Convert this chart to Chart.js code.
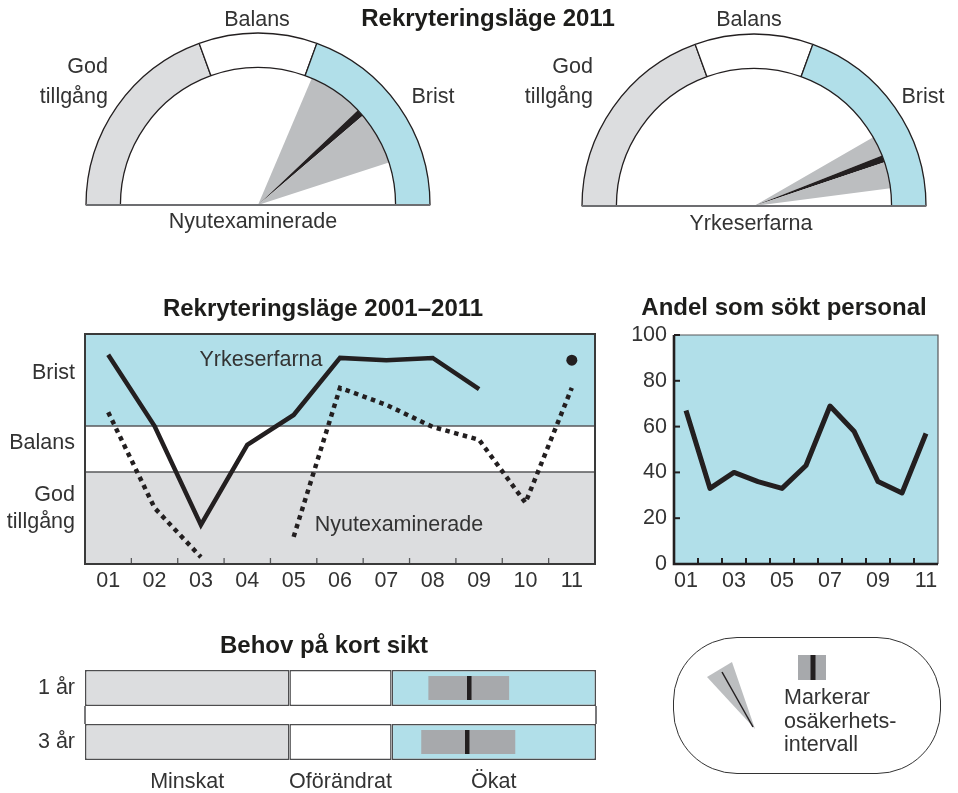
<!DOCTYPE html>
<html lang="sv">
<head>
<meta charset="utf-8">
<title>Rekryteringsläge</title>
<script src="https://cdn.jsdelivr.net/npm/chart.js@4.4.1/dist/chart.umd.min.js"></script>
<style>
  body { margin: 0; width: 958px; height: 793px; background: #fff; position: relative; overflow: hidden;
         font-family: 'Liberation Sans', Arial, sans-serif; color: #333; }
  canvas { position: absolute; }
  .t { position: absolute; white-space: nowrap; font-size: 21.5px; line-height: 1; }
  .b { font-weight: bold; font-size: 24px; color: #1d1d1b; }
  #legend { position: absolute; left: 673px; top: 637px; width: 268px; height: 137px; box-sizing: border-box;
            border: 1.5px solid #333; border-radius: 64px; }
  #legendText { position: absolute; left: 784px; top: 686px; font-size: 21.5px; line-height: 23.5px; }
</style>
</head>
<body>
<canvas id="gauge1" width="360" height="200" style="left:78px;top:19px"></canvas>
<canvas id="gauge2" width="360" height="200" style="left:574px;top:20px"></canvas>
<canvas id="lage" width="612" height="276" style="left:0;top:324px"></canvas>
<canvas id="andel" width="330" height="275" style="left:620px;top:325px"></canvas>
<canvas id="behov" width="612" height="143" style="left:0;top:650px"></canvas>
<div id="legend"></div>
<svg width="958" height="793" style="position:absolute;left:0;top:0">
  <polygon points="707,677 732,662 755,729" fill="#bcbec0"/>
  <line x1="722" y1="672" x2="753" y2="727" stroke="#231f20" stroke-width="1.5"/>
  <rect x="798" y="655" width="28" height="25" fill="#a7a9ac"/>
  <rect x="810.5" y="655" width="5" height="25" fill="#231f20"/>
</svg>
<div id="legendText">Markerar<br>osäkerhets-<br>intervall</div>

<script>
'use strict';

/* ── Data ── */
const gaugeZoneNames = ['God tillgång', 'Balans', 'Brist'];
const gaugeZoneSizes = [70, 40, 70];          // grader, vänster -> höger
const gaugeGroups    = ['Nyutexaminerade', 'Yrkeserfarna'];
const gaugeNeedle    = [138, 160];            // läge på skalan 0–180
const gaugeLow       = [113, 150];
const gaugeHigh      = [162, 172.6];

const years          = ['01', '02', '03', '04', '05', '06', '07', '08', '09', '10', '11'];
const yrkesLage      = [4.55, 3.0, 0.85, 2.59, 3.24, 4.48, 4.43, 4.48, 3.8, null, 4.43];
const nyexLage       = [3.3, 1.22, 0.15, null, 0.59, 3.83, 3.46, 2.98, 2.7, 1.33, 3.83];
const lageLimits     = [0, 2, 3, 5];
const lageNames      = [['God', 'tillgång'], 'Balans', 'Brist'];
const lageTickAt     = [1.2, 2.63, 4.15];

const andelSokt      = [67, 33, 40, 36, 33, 43, 69, 58, 36, 31, 57];
const andelTicks     = [0, 20, 40, 60, 80, 100];

const behovRows      = ['1 år', '3 år'];
const behovZoneNames = ['Minskat', 'Oförändrat', 'Ökat'];
const behovLimits    = [0, 2, 3, 5];
const behovLow       = [3.36, 3.29];
const behovMid       = [3.76, 3.74];
const behovHigh      = [4.15, 4.21];

/* ── Style ── */
const C = {
  blue: '#b1dfe9', gray: '#dcdddf', white: '#ffffff', wedge: '#bcbec0',
  interval: '#a7a9ac', ink: '#231f20', rule: '#58595b', text: '#333333',
};
const zoneColors = [C.gray, C.white, C.blue];
const NEEDLE_W = 3;
const MARK_W = 0.022;
const FONT = { family: "'Liberation Sans', Arial, sans-serif", size: 21.5 };

Chart.defaults.font.family = FONT.family;
Chart.defaults.font.size = FONT.size;
Chart.defaults.color = C.text;
Chart.defaults.plugins.legend.display = false;
Chart.defaults.plugins.tooltip.enabled = false;

const base = { responsive: false, animation: false, events: [] };
const noGrid = { display: false, drawTicks: false };

// fixed axis sizes so the plot areas land where the reference has them
const fixY = (w) => (s) => { s.width = w; s.paddingTop = 0; s.paddingBottom = 0; };
const fixX = (h) => (s) => { s.height = h; s.paddingLeft = 0; s.paddingRight = 0; };

/* ── HTML labels ── */
const put = (text, x, y, align = 'c', cls = '') => {
  const d = document.createElement('div');
  d.className = 't ' + cls;
  d.textContent = text;
  d.style.left = x + 'px';
  d.style.top = y + 'px';
  const tx = align === 'c' ? '-50%' : align === 'r' ? '-100%' : '0';
  d.style.transform = `translate(${tx}, -50%)`;
  document.body.appendChild(d);
};

/* ── Gauges ── */
const gaugeBase = {
  id: 'gaugeBase',
  afterDatasetsDraw(chart) {
    const arc = chart.getDatasetMeta(0).data[0];
    const { ctx } = chart;
    ctx.save();
    ctx.strokeStyle = '#6d6e71';
    ctx.lineWidth = 2;
    ctx.beginPath();
    ctx.moveTo(arc.x - arc.outerRadius, arc.y);
    ctx.lineTo(arc.x + arc.outerRadius, arc.y);
    ctx.stroke();
    ctx.restore();
  },
};

const makeGauge = (id, i) => {
  const n = gaugeNeedle[i], w = NEEDLE_W / 2;
  const inner = [gaugeLow[i], n - w - gaugeLow[i], NEEDLE_W, gaugeHigh[i] - n - w, 180 - gaugeHigh[i]];
  new Chart(document.getElementById(id), {
    type: 'doughnut',
    data: {
      labels: gaugeZoneNames,
      datasets: [
        { data: gaugeZoneSizes, backgroundColor: zoneColors, borderColor: C.ink, borderWidth: 1.3, weight: 34 },
        { data: inner, backgroundColor: ['rgba(0,0,0,0)', C.wedge, C.ink, C.wedge, 'rgba(0,0,0,0)'],
          borderWidth: 0, weight: 136 },
      ],
    },
    options: { ...base, rotation: -90, circumference: 180, cutout: 0, radius: 172 },
    plugins: [gaugeBase],
  });
};
makeGauge('gauge1', 0);
makeGauge('gauge2', 1);

/* ── Shared: inward tick marks between categories ── */
const drawCatTicks = (ctx, x, bottom, len) => {
  for (let i = 1; i < x.ticks.length; i++) {
    const px = (x.getPixelForValue(i - 1) + x.getPixelForValue(i)) / 2;
    ctx.beginPath();
    ctx.moveTo(px, bottom);
    ctx.lineTo(px, bottom - len);
    ctx.stroke();
  }
};

/* ── Rekryteringsläge 2001–2011 ── */
const lageBands = {
  id: 'lageBands',
  beforeDatasetsDraw(chart) {
    const { ctx, chartArea: a, scales: { x, y } } = chart;
    ctx.save();
    zoneColors.forEach((c, i) => {
      const top = y.getPixelForValue(lageLimits[i + 1]);
      const bot = y.getPixelForValue(lageLimits[i]);
      ctx.fillStyle = c;
      ctx.fillRect(a.left, top, a.width, bot - top);
    });
    ctx.strokeStyle = C.rule;
    ctx.lineWidth = 1.6;
    lageLimits.slice(1, -1).forEach((v) => {
      const py = y.getPixelForValue(v);
      ctx.beginPath();
      ctx.moveTo(a.left, py);
      ctx.lineTo(a.right, py);
      ctx.stroke();
    });
    ctx.lineWidth = 1.3;
    drawCatTicks(ctx, x, a.bottom, 6);
    ctx.strokeStyle = '#3a3a3a';
    ctx.lineWidth = 2;
    ctx.strokeRect(a.left, a.top, a.width, a.height);
    ctx.restore();
  },
};

const isolated = (arr, i) => arr[i] != null && arr[i - 1] == null && arr[i + 1] == null;

new Chart(document.getElementById('lage'), {
  type: 'line',
  data: {
    labels: years,
    datasets: [
      { label: 'Yrkeserfarna', data: yrkesLage, borderColor: C.ink, borderWidth: 4.5,
        borderJoinStyle: 'miter', pointBackgroundColor: C.ink, pointBorderWidth: 0,
        pointRadius: (ctx) => (isolated(yrkesLage, ctx.dataIndex) ? 5.5 : 0) },
      { label: 'Nyutexaminerade', data: nyexLage, borderColor: C.ink, borderWidth: 4.5,
        borderDash: [4.5, 4.5], borderCapStyle: 'butt', pointRadius: 0 },
    ],
  },
  options: {
    ...base,
    layout: { padding: { top: 10, right: 17 } },
    scales: {
      x: {
        offset: true,
        grid: noGrid, border: { display: false },
        ticks: { padding: 4, autoSkip: false, maxRotation: 0 },
        afterFit: fixX(36),
      },
      y: {
        min: 0, max: 5,
        grid: noGrid, border: { display: false },
        afterBuildTicks: (s) => { s.ticks = lageTickAt.map((v) => ({ value: v })); },
        ticks: { padding: 10, font: { lineHeight: 1.25 }, callback: (v, i) => lageNames[i] },
        afterFit: fixY(85),
      },
    },
  },
  plugins: [lageBands],
});

/* ── Andel som sökt personal ── */
const andelFrame = {
  id: 'andelFrame',
  beforeDatasetsDraw(chart) {
    const { ctx, chartArea: a, scales: { x, y } } = chart;
    ctx.save();
    ctx.fillStyle = C.blue;
    ctx.fillRect(a.left, a.top, a.width, a.height);
    ctx.strokeStyle = C.rule;
    ctx.lineWidth = 1.2;
    ctx.beginPath();
    ctx.moveTo(a.left, a.top);
    ctx.lineTo(a.right, a.top);
    ctx.lineTo(a.right, a.bottom);
    ctx.stroke();
    ctx.strokeStyle = C.ink;
    ctx.lineWidth = 2;
    drawCatTicks(ctx, x, a.bottom, 6);
    andelTicks.slice(1).forEach((v) => {
      const py = y.getPixelForValue(v);
      ctx.beginPath();
      ctx.moveTo(a.left, py);
      ctx.lineTo(a.left + 6, py);
      ctx.stroke();
    });
    ctx.lineWidth = 2.6;
    ctx.beginPath();
    ctx.moveTo(a.left, a.top);
    ctx.lineTo(a.left, a.bottom);
    ctx.lineTo(a.right, a.bottom);
    ctx.stroke();
    ctx.restore();
  },
};

new Chart(document.getElementById('andel'), {
  type: 'line',
  data: {
    labels: years,
    datasets: [{ label: 'Andel', data: andelSokt, borderColor: C.ink, borderWidth: 5,
                 borderJoinStyle: 'round', pointRadius: 0 }],
  },
  options: {
    ...base,
    layout: { padding: { top: 10, right: 12 } },
    scales: {
      x: {
        offset: true,
        grid: noGrid, border: { display: false },
        ticks: { padding: 4, autoSkip: false, maxRotation: 0, callback: (v, i) => (i % 2 ? '' : years[i]) },
        afterFit: fixX(36),
      },
      y: {
        min: 0, max: 100,
        grid: noGrid, border: { display: false },
        afterBuildTicks: (s) => { s.ticks = andelTicks.map((v) => ({ value: v })); },
        ticks: { padding: 7 },
        afterFit: fixY(54),
      },
    },
  },
  plugins: [andelFrame],
});

/* ── Behov på kort sikt ── */
const behovGap = {
  id: 'behovGap',
  afterDatasetsDraw(chart) {
    const { ctx, scales: { x } } = chart;
    const bars = chart.getDatasetMeta(2).data.map((b) => b.getProps(['y', 'height'], true));
    const y1 = bars[0].y + bars[0].height / 2;
    const y2 = bars[1].y - bars[1].height / 2;
    ctx.save();
    ctx.strokeStyle = '#4d4d4f';
    ctx.lineWidth = 1.5;
    [x.getPixelForValue(behovLimits[0]), x.getPixelForValue(behovLimits[3])].forEach((px) => {
      ctx.beginPath();
      ctx.moveTo(px, y1);
      ctx.lineTo(px, y2);
      ctx.stroke();
    });
    ctx.restore();
  },
};

const inner = { categoryPercentage: 24 / 54, barPercentage: 1, grouped: false, borderWidth: 0 };

new Chart(document.getElementById('behov'), {
  type: 'bar',
  data: {
    labels: behovRows,
    datasets: [
      { label: 'Bedömning', data: behovMid.map((v) => [v - MARK_W, v + MARK_W]), backgroundColor: C.ink, ...inner },
      { label: 'Intervall', data: behovRows.map((_, i) => [behovLow[i], behovHigh[i]]),
        backgroundColor: C.interval, ...inner },
      ...behovZoneNames.map((name, z) => ({
        label: name,
        data: behovRows.map(() => [behovLimits[z], behovLimits[z + 1]]),
        backgroundColor: zoneColors[z], borderColor: '#4d4d4f', borderWidth: 1.5, borderSkipped: false,
        categoryPercentage: 36 / 54, barPercentage: 1, grouped: false,
      })),
    ],
  },
  options: {
    ...base,
    indexAxis: 'y',
    layout: { padding: { top: 11, right: 16 } },
    scales: {
      x: {
        min: 0, max: 5,
        grid: noGrid, border: { display: false },
        afterBuildTicks: (s) => {
          s.ticks = behovZoneNames.map((_, z) => ({ value: (behovLimits[z] + behovLimits[z + 1]) / 2 }));
        },
        ticks: { padding: 0, autoSkip: false, maxRotation: 0, callback: (v, i) => behovZoneNames[i] },
        afterFit: fixX(24),
      },
      y: {
        grid: noGrid, border: { display: false },
        ticks: { padding: 10 },
        afterFit: fixY(85),
      },
    },
  },
  plugins: [behovGap],
});

/* ── Titles and labels ── */
put('Rekryteringsläge 2011', 488, 18, 'c', 'b');
put('Rekryteringsläge 2001–2011', 323, 308, 'c', 'b');
put('Andel som sökt personal', 784, 307, 'c', 'b');
put('Behov på kort sikt', 324, 645, 'c', 'b');

put(gaugeZoneNames[1], 257, 20);
put('God', 108, 67, 'r');
put('tillgång', 108, 97, 'r');
put(gaugeZoneNames[2], 433, 97);
put(gaugeGroups[0], 253, 222);

put(gaugeZoneNames[1], 749, 20);
put('God', 593, 67, 'r');
put('tillgång', 593, 97, 'r');
put(gaugeZoneNames[2], 923, 97);
put(gaugeGroups[1], 751, 224);

put(gaugeGroups[1], 261, 360);
put(gaugeGroups[0], 399, 525);
</script>
</body>
</html>
